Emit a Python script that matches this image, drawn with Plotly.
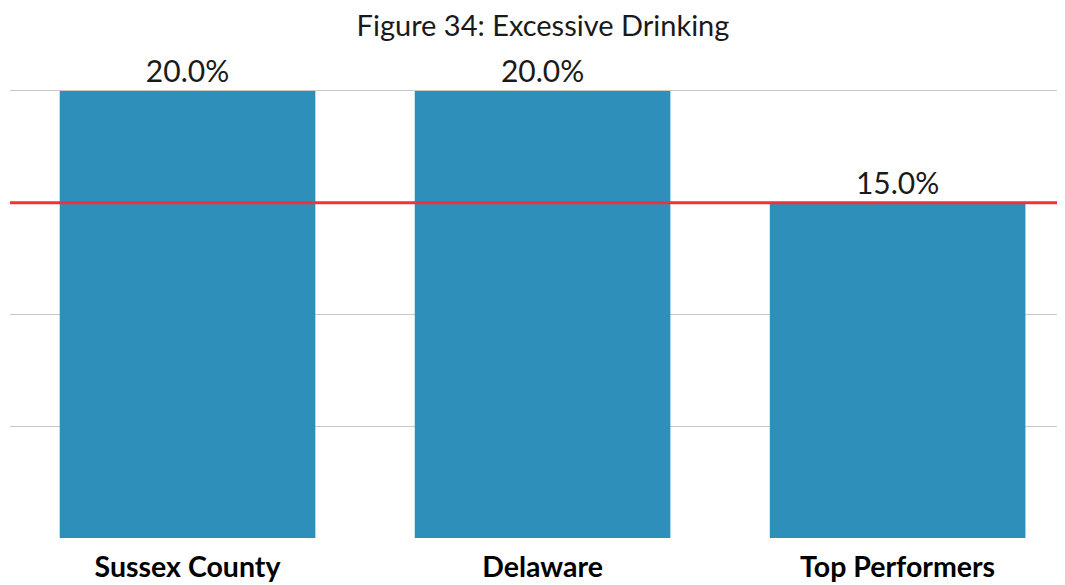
import plotly.graph_objects as go

categories = ["Sussex County", "Delaware", "Top Performers"]
values = [20.0, 20.0, 15.0]
labels = ["20.0%", "20.0%", "15.0%"]
benchmark = 15.0
y_ticks = [0, 5, 10, 15, 20]

fig = go.Figure()
fig.add_trace(go.Bar(
    x=categories, y=values, text=labels, textposition="outside",
    marker=dict(color="#2E90BA", line=dict(width=0)),
    textfont=dict(family="Lato, sans-serif", size=30, color="#1a1a1a"),
    cliponaxis=False, width=0.72,
))
fig.add_shape(type="line", xref="paper", yref="y", x0=0, x1=1,
              y0=benchmark, y1=benchmark,
              line=dict(color="#EE3338", width=3), layer="above")

fig.update_layout(
    width=1065, height=585,
    margin=dict(l=2, r=0, t=76, b=55, autoexpand=False),
    paper_bgcolor="white", plot_bgcolor="white",
    showlegend=False,
    title=dict(text="Figure 34: Excessive Drinking", x=535/1065, xref="container",
               xanchor="center", y=1 - 18/585, yanchor="middle",
               font=dict(family="Lato, sans-serif", size=29, color="#1a1a1a")),
    xaxis=dict(range=[-0.5, 2.494], showgrid=False, showline=False, zeroline=False,
               automargin=False, ticklabelstandoff=9,
               tickfont=dict(family="Lato, sans-serif", size=28.5, color="black", weight="bold"),
               ticks=""),
    yaxis=dict(range=[0, 20.31], tickvals=y_ticks, showticklabels=False, automargin=False,
               gridcolor="#c8c8c8", gridwidth=1, zeroline=False, showline=False),
)
fig.write_html("out.html")
